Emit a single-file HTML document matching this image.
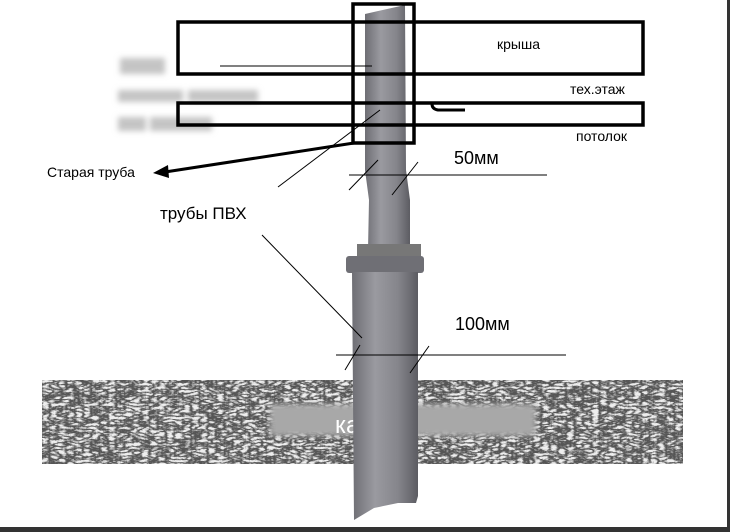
<!DOCTYPE html>
<html><head><meta charset="utf-8"><style>
html,body{margin:0;padding:0;background:#fff;}
svg{display:block}
text{font-family:"Liberation Sans","DejaVu Sans",sans-serif;}
</style></head><body>
<svg width="730" height="532" viewBox="0 0 730 532" xmlns="http://www.w3.org/2000/svg">
<defs>
<filter id="bl"><feGaussianBlur stdDeviation="3"/></filter>
<filter id="noise" x="0" y="0" width="100%" height="100%">
<feTurbulence type="turbulence" baseFrequency="0.12 0.3" numOctaves="3" seed="4"/>
<feColorMatrix type="matrix" values="0 0 0 0 0.85  0 0 0 0 0.85  0 0 0 0 0.85  3 0 0 0 -0.5"/>
<feComposite in2="SourceGraphic" operator="in"/>
</filter>
<linearGradient id="pg" x1="0" x2="1">
<stop offset="0" stop-color="#6e6e74"/><stop offset="0.35" stop-color="#9a9aa0"/><stop offset="0.7" stop-color="#85858b"/><stop offset="1" stop-color="#5c5c62"/>
</linearGradient>
</defs>
<rect x="727" y="0" width="3" height="532" fill="#333"/>
<rect x="0" y="527" width="730" height="5" fill="#333"/>
<g filter="url(#bl)" fill="#c4c4c4">
<rect x="120" y="58" width="45" height="16"/>
<rect x="118" y="90" width="65" height="12"/><rect x="188" y="90" width="70" height="12"/>
<rect x="118" y="117" width="28" height="14"/><rect x="150" y="117" width="62" height="14"/>
</g>
<rect x="42" y="380" width="641" height="84" fill="#555"/>
<rect x="42" y="380" width="641" height="84" fill="#fff" filter="url(#noise)"/>
<rect x="270" y="404" width="266" height="32" fill="#a8a8a8" filter="url(#bl)"/>
<text x="335" y="433" font-size="24" fill="#fff">ка с</text>
<path d="M365 14 L405 5 L406 170 L410 200 L410 250 L368 250 L369 200 L365 170 Z" fill="url(#pg)"/>
<rect x="357" y="244" width="64" height="14" fill="#777"/>
<rect x="346" y="256" width="78" height="17" rx="3" fill="#6f6f75"/>
<path d="M352 272 L418 272 L418 496 L416 503 L398 503 L374 508 L354 520 Z" fill="url(#pg)"/>
<g fill="none" stroke="#000" stroke-width="3.5">
<rect x="353" y="4" width="61" height="139"/>
<rect x="178" y="22" width="465" height="52"/>
<rect x="178" y="103" width="465" height="22"/>
</g>
<path d="M432 104 q0 5 6 6 L465 110" stroke="#000" stroke-width="3" fill="none"/>
<g stroke="#000" stroke-width="1" fill="none">
<line x1="220" y1="66" x2="372" y2="66"/>
<line x1="278" y1="187" x2="380" y2="110"/>
<line x1="349" y1="175" x2="547" y2="175"/>
<line x1="349" y1="190" x2="378" y2="160"/>
<line x1="392" y1="195" x2="418" y2="162"/>
<line x1="262" y1="235" x2="362" y2="338"/>
<line x1="336" y1="355" x2="566" y2="355"/>
<line x1="345" y1="370" x2="360" y2="345"/>
<line x1="410" y1="373" x2="429" y2="346"/>
</g>
<line x1="354" y1="143" x2="165" y2="172" stroke="#000" stroke-width="3"/>
<polygon points="153,173 168,165 169,178" fill="#000"/>
<text x="497" y="49" font-size="14">крыша</text>
<text x="570" y="94" font-size="14">тех.этаж</text>
<text x="576" y="141" font-size="14">потолок</text>
<text x="454" y="164" font-size="18">50мм</text>
<text x="47" y="177" font-size="14">Старая труба</text>
<text x="160" y="219" font-size="17">трубы ПВХ</text>
<text x="455" y="330" font-size="18">100мм</text>
</svg>
</body></html>
